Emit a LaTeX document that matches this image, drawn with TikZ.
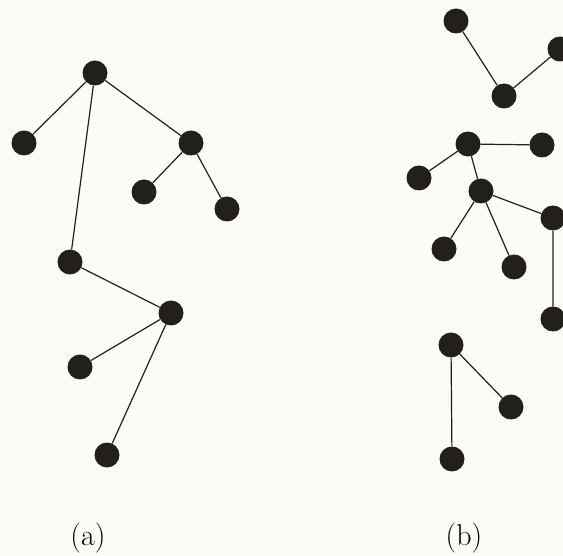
\documentclass[tikz,border=0pt]{standalone}
\usepackage{fontspec}
\definecolor{vtx}{RGB}{35,31,28}
\definecolor{paper}{RGB}{251,251,248}
\tikzset{
  vert/.style={circle,fill=vtx,inner sep=0pt,minimum size=25pt},
  edge/.style={draw=vtx,line width=1.2pt},
  sublabel/.style={font=\fontsize{30}{36}\selectfont,inner sep=0pt}
}
\begin{document}
\begin{tikzpicture}[x=1pt,y=-1pt]
\useasboundingbox (0,0) rectangle (563,556);
\clip (0,0) rectangle (563,556);
\fill[paper] (0,0) rectangle (563,556);
% tree (a)
\node[vert] (a1) at (95,73) {};
\node[vert] (a2) at (24,143) {};
\node[vert] (a3) at (191,143) {};
\node[vert] (a4) at (144,192) {};
\node[vert] (a5) at (227,209) {};
\node[vert] (a6) at (70,262) {};
\node[vert] (a7) at (171,313) {};
\node[vert] (a8) at (80,367) {};
\node[vert] (a9) at (107,455) {};
% tree (b)
\node[vert] (b1) at (456,21) {};
\node[vert] (b2) at (504,96) {};
\node[vert] (b3) at (560,49) {};
\node[vert] (b4) at (468,144) {};
\node[vert] (b5) at (542,145) {};
\node[vert] (b6) at (419,178) {};
\node[vert] (b7) at (481,191) {};
\node[vert] (b8) at (553,218) {};
\node[vert] (b9) at (444,249) {};
\node[vert] (b10) at (514,267) {};
\node[vert] (b11) at (553,319) {};
\node[vert] (b12) at (451,345) {};
\node[vert] (b13) at (511,407) {};
\node[vert] (b14) at (452,459) {};
% edges
\path[edge] (a1) -- (a2) (a1) -- (a3) (a1) -- (a6)
  (a3) -- (a4) (a3) -- (a5) (a6) -- (a7) (a7) -- (a8) (a7) -- (a9);
\path[edge] (b1) -- (b2) (b2) -- (b3)
  (b4) -- (b5) (b4) -- (b6) (b4) -- (b7)
  (b7) -- (b8) (b7) -- (b9) (b7) -- (b10) (b8) -- (b11)
  (b12) -- (b13) (b12) -- (b14);
% captions
\node[sublabel] (la) at (88,538) {(a)};
\node[sublabel] (lb) at (464,538) {(b)};
\end{tikzpicture}
\end{document}
